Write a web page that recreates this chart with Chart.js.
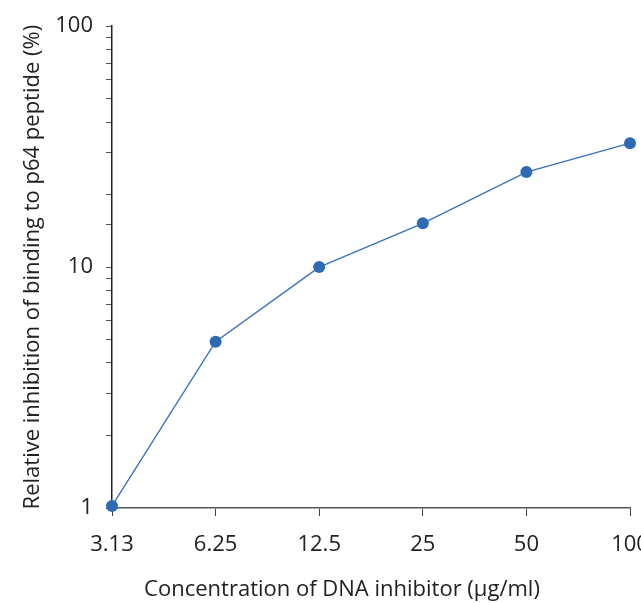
<!DOCTYPE html>
<html lang="en">

<head>
  <meta charset="UTF-8">
  <title>DNA inhibitor binding</title>
  <script src="https://cdn.jsdelivr.net/npm/chart.js"></script>
  <style>
    body {
      margin: 0;
      padding: 0;
      background: #ffffff;
    }

    .wrap {
      width: 641px;
      height: 603px;
    }
  </style>
</head>

<body>
  <div class="wrap">
    <canvas id="chart" width="641" height="603"></canvas>
  </div>

  <script>
    // concentrations (ug/ml) and relative inhibition (%)
    const concentrations = ["3.13", "6.25", "12.5", "25", "50", "100"];
    const inhibition = [1.02, 4.9, 10, 15.2, 24.8, 32.7];
    const yLabels = [1, 10, 100];
    const xTitle = "Concentration of DNA inhibitor (µg/ml)";

    const fontFamily = "'Open Sans', sans-serif";

    // x title sits a bit left of the plot centre in the original
    const xTitlePlugin = {
      id: "xTitle",
      afterDraw(chart) {
        const ctx = chart.ctx;
        const area = chart.chartArea;
        ctx.save();
        ctx.font = "22px " + fontFamily;
        ctx.fillStyle = "#222222";
        ctx.textAlign = "center";
        ctx.textBaseline = "middle";
        ctx.fillText(xTitle, (area.left + area.right) / 2 - 29, chart.height - 13);
        ctx.restore();
      },
    };

    new Chart(document.getElementById("chart"), {
      type: "line",
      data: {
        labels: concentrations,
        datasets: [{
          data: inhibition,
          borderColor: "#3a72c0",
          backgroundColor: "#2f6ab5",
          borderWidth: 1.4,
          pointRadius: 6,
          pointHoverRadius: 6,
          pointBorderWidth: 0,
          clip: false,
          tension: 0,
        }],
      },
      plugins: [xTitlePlugin],
      options: {
        responsive: false,
        animation: false,
        layout: { padding: { top: 25, right: 11, left: 0, bottom: 0 } },
        plugins: {
          legend: { display: false },
          tooltip: { enabled: false },
        },
        scales: {
          x: {
            type: "category",
            offset: false,
            afterFit: (s) => {
              s.height = 95;
              s.paddingRight = 0;
              s.paddingLeft = 0;
            },
            border: { display: true, color: "#555555", width: 1.5 },
            grid: {
              display: true,
              offset: false,
              drawOnChartArea: false,
              drawTicks: true,
              tickLength: 8,
              tickColor: "#444444",
            },
            ticks: {
              color: "#222222",
              padding: 16,
              maxRotation: 0,
              font: { family: fontFamily, size: 22 },
            },
          },
          y: {
            type: "logarithmic",
            min: 1,
            max: 100,
            afterFit: (s) => { s.width = 112; },
            border: { display: true, color: "#222222", width: 1.5 },
            grid: {
              display: true,
              drawOnChartArea: false,
              drawTicks: true,
              tickLength: 6,
              tickColor: "#555555",
            },
            ticks: {
              color: "#222222",
              padding: 13,
              autoSkip: false,
              font: { family: fontFamily, size: 22 },
              callback: (v) => yLabels.includes(v) ? String(v) : "",
            },
            title: {
              display: true,
              text: "Relative inhibition of binding to p64 peptide (%)",
              color: "#222222",
              font: { family: fontFamily, size: 22 },
              padding: { top: 20, bottom: 0 },
            },
          },
        },
      },
    });
  </script>
</body>

</html>
